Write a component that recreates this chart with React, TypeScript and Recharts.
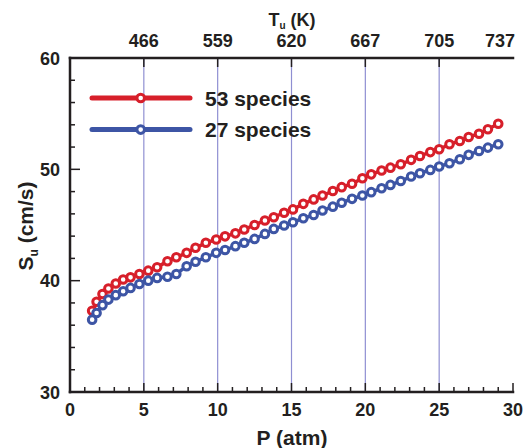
import { LineChart, Line, XAxis, YAxis, ReferenceLine, Legend } from 'recharts';

// pressure (atm) and laminar flame speed S_u (cm/s)
const pressure = [
  1.5, 1.8, 2.2, 2.6, 3.1, 3.6, 4.1, 4.7, 5.3, 5.9, 6.6, 7.2, 7.9, 8.5, 9.2,
  9.9, 10.5, 11.2, 11.8, 12.5, 13.2, 13.8, 14.5, 15.1, 15.8, 16.5, 17.1, 17.8,
  18.4, 19.1, 19.8, 20.4, 21.1, 21.7, 22.4, 23.1, 23.7, 24.4, 25.0, 25.7, 26.4,
  27.0, 27.7, 28.3, 29.0,
];
const s53 = [
  37.3, 38.1, 38.8, 39.3, 39.75, 40.1, 40.3, 40.6, 40.9, 41.2, 41.75, 42.1, 42.5,
  42.95, 43.4, 43.7, 43.98, 44.25, 44.6, 45.0, 45.4, 45.7, 46.1, 46.4, 46.9, 47.3,
  47.65, 48.05, 48.4, 48.7, 49.2, 49.55, 49.9, 50.15, 50.45, 50.85, 51.2, 51.55,
  51.8, 52.25, 52.55, 52.9, 53.2, 53.6, 54.1,
];
const s27 = [
  36.5, 37.1, 37.8, 38.3, 38.7, 39.05, 39.35, 39.7, 40.0, 40.25, 40.35, 40.6, 41.3,
  41.7, 42.1, 42.5, 42.75, 43.1, 43.4, 43.75, 44.2, 44.65, 44.95, 45.25, 45.6, 45.9,
  46.3, 46.65, 47.0, 47.35, 47.65, 47.95, 48.3, 48.6, 48.95, 49.35, 49.65, 49.95,
  50.25, 50.55, 50.9, 51.3, 51.65, 51.95, 52.25,
];

const pTicks = [0, 1, 2, 3, 4, 5, 6, 7, 8, 9, 10, 11, 12, 13, 14, 15, 16, 17, 18, 19, 20, 21, 22, 23, 24, 25, 26, 27, 28, 29, 30];
const pLabels = [0, 5, 10, 15, 20, 25, 30];
const suTicks = [30, 32, 34, 36, 38, 40, 42, 44, 46, 48, 50, 52, 54, 56, 58, 60];
const suLabels = [30, 40, 50, 60];
const tuTicks = [5, 10, 15, 20, 25, 30];
const tuLabels = ['466', '559', '620', '667', '705', '737'];
const gridP = [5, 10, 15, 20, 25];
const seriesOrder = ['53 species', '27 species'];

const RED = '#d71f2a';
const BLUE = '#3d55a5';
const INK = '#231f20';
const FONT = '"Liberation Sans", Arial, Helvetica, sans-serif';

const rows = pressure.map((p, i) => ({ p, s53: s53[i], s27: s27[i] }));

function BottomTick({ x, y, payload }: any) {
  const v = payload.value;
  const major = pLabels.includes(v);
  return (
    <g>
      <line x1={x} x2={x} y1={y} y2={y - (major ? 9 : 5)} stroke={INK} strokeWidth={1.5} />
      {major && (
        <text x={x} y={y + 24} textAnchor="middle" fontFamily={FONT} fontWeight="bold" fontSize={18} fill={INK}>
          {v}
        </text>
      )}
    </g>
  );
}

function LeftTick({ x, y, payload }: any) {
  const v = payload.value;
  const major = suLabels.includes(v);
  return (
    <g>
      <line x1={x} x2={x + (major ? 10 : 5)} y1={y} y2={y} stroke={INK} strokeWidth={1.5} />
      {major && (
        <text x={x - 10} y={y + 6.5} textAnchor="end" fontFamily={FONT} fontWeight="bold" fontSize={18} fill={INK}>
          {v}
        </text>
      )}
    </g>
  );
}

// top temperature axis: drawn on reference lines at the P positions
function TopMark({ viewBox, text, last }: any) {
  const x = viewBox.x;
  const y = viewBox.y;
  return (
    <g>
      {!last && <line x1={x} x2={x} y1={y} y2={y + 9} stroke={INK} strokeWidth={1.5} />}
      <text x={last ? x - 13 : x} y={y - 11} textAnchor="middle" fontFamily={FONT} fontWeight="bold" fontSize={18} fill={INK}>
        {text}
      </text>
    </g>
  );
}

function LegendBox({ payload }: any) {
  const items = [...(payload || [])].sort(
    (a: any, b: any) => seriesOrder.indexOf(a.value) - seriesOrder.indexOf(b.value)
  );
  return (
    <svg width={260} height={64}>
      {items.map((e: any, i: number) => {
        const cy = 14 + i * 31.6;
        return (
          <g key={i}>
            <line x1={4} x2={102} y1={cy} y2={cy} stroke={e.color} strokeWidth={5} strokeLinecap="round" />
            <circle cx={52.7} cy={cy} r={3.8} fill="#fff" stroke={e.color} strokeWidth={3} />
            <text x={117} y={cy + 7.5} fontFamily={FONT} fontWeight="bold" fontSize={21} fill={INK}>
              {e.value}
            </text>
          </g>
        );
      })}
    </svg>
  );
}

export default function App() {
  return (
    <div style={{ position: 'absolute', left: 0, top: 0, width: 524, height: 448, background: '#fff' }}>
      <LineChart width={524} height={448} data={rows} margin={{ top: 28, right: 11, bottom: 26, left: 30 }}>
        {gridP.map((g) => (
          <ReferenceLine key={g} x={g} stroke="#8f8fd2" strokeWidth={1.2} />
        ))}
        {tuTicks.map((t, i) => (
          <ReferenceLine
            key={'t' + t}
            x={t}
            stroke="none"
            label={<TopMark text={tuLabels[i]} last={i === tuTicks.length - 1} />}
          />
        ))}
        <XAxis
          dataKey="p"
          type="number"
          domain={[0, 30]}
          ticks={pTicks}
          interval={0}
          height={30}
          tickSize={0}
          tickMargin={0}
          tickLine={false}
          tick={<BottomTick />}
          axisLine={{ stroke: INK, strokeWidth: 2.5, strokeLinecap: 'square' }}
          label={{
            content: () => (
              <text x={292} y={445} textAnchor="middle" fontFamily={FONT} fontWeight="bold" fontSize={21} fill={INK}>
                P (atm)
              </text>
            ),
          }}
        />
        <XAxis
          xAxisId="top"
          orientation="top"
          type="number"
          domain={[0, 30]}
          height={30}
          tick={false}
          tickLine={false}
          axisLine={{ stroke: INK, strokeWidth: 2.5, strokeLinecap: 'square' }}
          label={{
            content: () => (
              <text x={292} y={26} textAnchor="middle" fontFamily={FONT} fontWeight="bold" fontSize={18} fill={INK}>
                T<tspan dy={3} fontSize={10}>u</tspan>
                <tspan dy={-3}> (K)</tspan>
              </text>
            ),
          }}
        />
        <YAxis
          type="number"
          domain={[30, 60]}
          ticks={suTicks}
          interval={0}
          width={40}
          tickSize={0}
          tickMargin={0}
          tickLine={false}
          tick={<LeftTick />}
          axisLine={{ stroke: INK, strokeWidth: 2.5, strokeLinecap: 'square' }}
          label={{
            content: () => (
              <text
                x={33}
                y={226}
                transform="rotate(-90, 33, 226)"
                textAnchor="middle"
                fontFamily={FONT}
                fontWeight="bold"
                fontSize={21}
                fill={INK}
              >
                S<tspan dy={5} fontSize={12}>u</tspan>
                <tspan dy={-5}> (cm/s)</tspan>
              </text>
            ),
          }}
        />
        <YAxis
          yAxisId="right"
          orientation="right"
          type="number"
          domain={[30, 60]}
          width={0}
          tick={false}
          tickLine={false}
          axisLine={{ stroke: INK, strokeWidth: 2.5, strokeLinecap: 'square' }}
        />
        <Legend
          layout="horizontal"
          verticalAlign="middle"
          align="center"
          content={<LegendBox />}
          wrapperStyle={{ position: 'absolute', left: 88, top: 84, width: 260, height: 64 }}
        />
        <Line
          dataKey="s53"
          name="53 species"
          stroke={RED}
          strokeWidth={3.5}
          dot={{ r: 3.8, fill: '#fff', stroke: RED, strokeWidth: 3 }}
          isAnimationActive={false}
        />
        <Line
          dataKey="s27"
          name="27 species"
          stroke={BLUE}
          strokeWidth={3.5}
          dot={{ r: 3.8, fill: '#fff', stroke: BLUE, strokeWidth: 3 }}
          isAnimationActive={false}
        />
      </LineChart>
    </div>
  );
}
